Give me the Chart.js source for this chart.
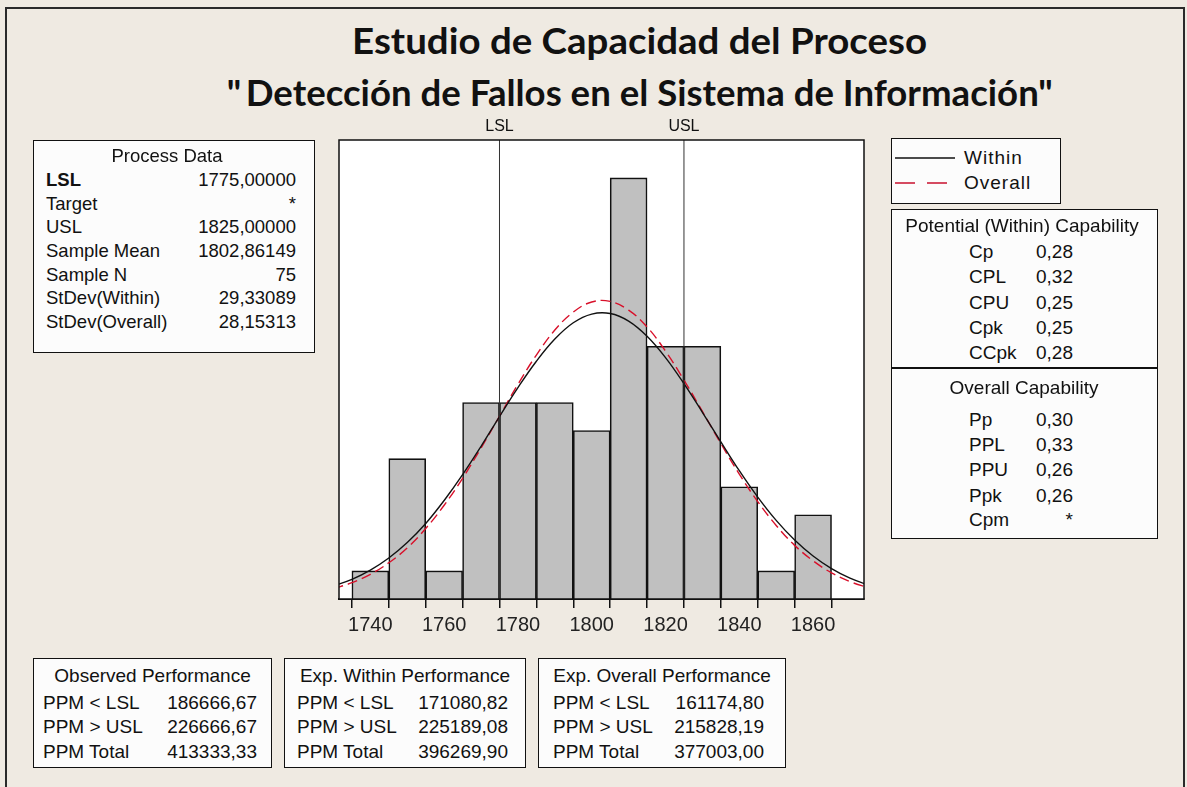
<!DOCTYPE html>
<html>
<head>
<meta charset="utf-8">
<script src="https://cdn.jsdelivr.net/npm/chart.js@4.4.0/dist/chart.umd.min.js"></script>
<style>
html,body{margin:0;padding:0;background:#efeae2;}
#page{position:relative;width:1187px;height:787px;overflow:hidden;background:#efeae2;font-family:"Liberation Sans",Arial,sans-serif;color:#111;}
#frame{position:absolute;left:5px;top:7px;width:1180px;height:800px;border:2px solid #2a2a2a;box-sizing:border-box;}
.title{position:absolute;left:40px;width:1200px;text-align:center;font-family:Lato,"DejaVu Sans",sans-serif;font-weight:bold;color:#111;white-space:nowrap;font-size:37px;line-height:42px;}
.title span{display:inline-block;transform-origin:center center;}
.box{position:absolute;background:#fcfcfc;border:1.5px solid #111;box-sizing:border-box;}
.t{position:absolute;white-space:nowrap;font-size:19px;line-height:22px;color:#111;}
#chartWrap{position:absolute;left:330px;top:110px;width:545px;height:540px;}
</style>
</head>
<body>
<div id="page">
  <div id="frame"></div>
  <div class="title" style="top:19px;"><span data-w="575">Estudio de Capacidad del Proceso</span></div>
  <div class="title" style="top:71px;"><span data-w="826">"&#8201;Detección de Fallos en el Sistema de Información"</span></div>
  <div id="chartWrap"><canvas id="c" width="545" height="540"></canvas></div>
</div>
<script>
// ---- data ----
const binCenters = [1740, 1750, 1760, 1770, 1780, 1790, 1800, 1810, 1820, 1830, 1840, 1850, 1860];
const binCounts  = [1, 5, 1, 7, 7, 7, 6, 15, 9, 9, 4, 1, 3];
const curveX     = [1730,1735,1740,1745,1750,1755,1760,1765,1770,1775,1780,1785,1790,1795,1800,1805,1810,1815,1820,1825,1830,1835,1840,1845,1850,1855,1860,1865,1870,1875];
const withinY    = [0.47,0.70,1.03,1.46,2.01,2.69,3.51,4.43,5.44,6.50,7.53,8.47,9.26,9.84,10.15,10.17,9.90,9.36,8.60,7.67,6.65,5.60,4.57,3.63,2.80,2.10,1.53,1.08,0.74,0.50];
const overallY   = [0.37,0.58,0.88,1.29,1.82,2.51,3.34,4.30,5.38,6.51,7.65,8.69,9.58,10.22,10.58,10.60,10.29,9.69,8.83,7.80,6.68,5.54,4.45,3.47,2.62,1.91,1.36,0.93,0.62,0.40];
const specLimits = [1775, 1825];
const specNames  = ["LSL", "USL"];
const tickLabelsEvery = 20;

const processLabels = ["LSL","Target","USL","Sample Mean","Sample N","StDev(Within)","StDev(Overall)"];
const processValues = ["1775,00000","*","1825,00000","1802,86149","75","29,33089","28,15313"];
const potentialLabels = ["Cp","CPL","CPU","Cpk","CCpk"];
const potentialValues = ["0,28","0,32","0,25","0,25","0,28"];
const overallCapLabels = ["Pp","PPL","PPU","Ppk","Cpm"];
const overallCapValues = ["0,30","0,33","0,26","0,26","*"];
const perfLabels = ["PPM < LSL","PPM > USL","PPM Total"];
const observedPerf = ["186666,67","226666,67","413333,33"];
const expWithinPerf = ["171080,82","225189,08","396269,90"];
const expOverallPerf = ["161174,80","215828,19","377003,00"];
const legendNames = ["Within","Overall"];

// ---- title fit ----
document.querySelectorAll('.title span').forEach(sp=>{
  const w=sp.getBoundingClientRect().width, tw=+sp.dataset.w;
  if(w>0) sp.style.transform='scaleX('+(tw/w)+')';
});

// ---- text boxes ----
const page = document.getElementById('page');
function box(l,t,w,h){const d=document.createElement('div');d.className='box';d.style.left=l+'px';d.style.top=t+'px';d.style.width=w+'px';d.style.height=h+'px';page.appendChild(d);return d;}
function txt(s,x,yc,align,o){
  o=o||{};
  const d=document.createElement('div');d.className='t';d.textContent=s;
  d.style.top=(yc-11)+'px';
  if(o.size) d.style.fontSize=o.size+'px';
  if(o.ls) d.style.letterSpacing=o.ls+'px';
  if(o.bold) d.style.fontWeight='bold';
  if(align==='left'){d.style.left=x+'px';}
  else if(align==='right'){d.style.right=(1187-x)+'px';}
  else {d.style.left=(x-200)+'px';d.style.width='400px';d.style.textAlign='center';}
  page.appendChild(d);return d;
}
// Process data
box(33,140,282,213);
txt("Process Data",167,156,'center',{size:18.5});
const pRows=[180,204,227,251,275,298,322];
processLabels.forEach((s,i)=>{txt(s,46,pRows[i],'left',{size:18.5,bold:i===0});txt(processValues[i],296,pRows[i],'right',{size:18.5});});

// Legend
box(891,138,170,66);
const lg=document.createElement('div');
lg.style.cssText='position:absolute;left:895px;top:150px;width:62px;height:40px;';
lg.innerHTML='<svg width="62" height="40"><line x1="0" y1="8" x2="60" y2="8" stroke="#111" stroke-width="1.5"/><line x1="0" y1="33" x2="60" y2="33" stroke="#c8102e" stroke-width="1.5" stroke-dasharray="20,12"/></svg>';
page.appendChild(lg);
txt(legendNames[0],964,158,'left',{ls:1});
txt(legendNames[1],964,183,'left',{ls:1});

// Capability box
box(891,209,267,330);
const dv=document.createElement('div');dv.style.cssText='position:absolute;left:891px;top:367px;width:267px;height:1.5px;background:#111;';page.appendChild(dv);
txt("Potential (Within) Capability",1022,226,'center');
const cRows=[252,277,303,328,353];
potentialLabels.forEach((s,i)=>{txt(s,969,cRows[i],'left');txt(potentialValues[i],1073,cRows[i],'right');});
txt("Overall Capability",1024,388,'center');
const oRows=[420,445,470,496,520];
overallCapLabels.forEach((s,i)=>{txt(s,969,oRows[i],'left');txt(overallCapValues[i],1073,oRows[i],'right');});

// Performance boxes
const perfBoxes=[
  {l:33,w:239,title:"Observed Performance",vals:observedPerf,lx:43,rx:257},
  {l:284,w:242,title:"Exp. Within Performance",vals:expWithinPerf,lx:297,rx:508},
  {l:538,w:248,title:"Exp. Overall Performance",vals:expOverallPerf,lx:553,rx:764}
];
const bRows=[703,727,752];
perfBoxes.forEach(b=>{
  box(b.l,658,b.w,110);
  txt(b.title,b.l+b.w/2,676,'center');
  perfLabels.forEach((s,i)=>{txt(s,b.lx,bRows[i],'left');txt(b.vals[i],b.rx,bRows[i],'right');});
});

// ---- chart ----
const framePlugin={
  id:'frame',
  beforeDatasetsDraw(chart){
    const a=chart.chartArea,ctx=chart.ctx;ctx.save();ctx.fillStyle='#ffffff';ctx.fillRect(a.left,a.top,a.right-a.left,a.bottom-a.top);ctx.restore();
  },
  afterDraw(chart){
    const a=chart.chartArea,ctx=chart.ctx,xs=chart.scales.x;
    ctx.save();ctx.strokeStyle='#111';ctx.lineWidth=1.5;ctx.strokeRect(a.left,a.top,a.right-a.left,a.bottom-a.top);
    ctx.fillStyle='#111';ctx.font='16px "Liberation Sans", Arial, sans-serif';ctx.textAlign='center';ctx.textBaseline='middle';
    specLimits.forEach((v,i)=>{ctx.fillText(specNames[i],xs.getPixelForValue(v),a.top-13);});
    ctx.restore();
  }
};

const ymax=16.35;
new Chart(document.getElementById('c'),{
  type:'bar',
  data:{
    datasets:[
      {type:'line',data:curveX.map((x,i)=>({x,y:withinY[i]})),borderColor:'#111',borderWidth:1.4,pointRadius:0,tension:0.4,fill:false,order:1},
      {type:'line',data:curveX.map((x,i)=>({x,y:overallY[i]})),borderColor:'#d8102a',borderWidth:1.4,borderDash:[10,5],pointRadius:0,tension:0.4,fill:false,order:2},
      ...specLimits.map(v=>({type:'line',data:[{x:v,y:0},{x:v,y:ymax}],borderColor:'#333',borderWidth:1,pointRadius:0,fill:false,order:0})),
      {type:'bar',data:binCenters.map((x,i)=>({x,y:binCounts[i]})),backgroundColor:'#c0c0c0',borderColor:'#111',borderWidth:1.6,borderSkipped:'bottom',barPercentage:1,categoryPercentage:1,order:5}
    ]
  },
  options:{
    responsive:false,animation:false,devicePixelRatio:1,
    layout:{padding:{left:9,right:11,top:30,bottom:0}},
    plugins:{legend:{display:false},tooltip:{enabled:false}},
    scales:{
      x:{type:'linear',min:1731.5,max:1873.8,offset:false,
        afterFit(s){s.height=51;},
        ticks:{stepSize:10,includeBounds:false,autoSkip:false,maxRotation:0,padding:5,color:'#222',
          font:{family:'"Liberation Sans", Arial, sans-serif',size:20},
          callback:(v)=>(v%tickLabelsEvery===0?String(v):'')},
        grid:{display:true,drawOnChartArea:false,drawTicks:true,tickLength:9,color:'#111',lineWidth:1.5},
        border:{display:true,color:'#111',width:2}
      },
      y:{display:false,min:0,max:ymax}
    }
  },
  plugins:[framePlugin]
});
</script>
</body>
</html>
